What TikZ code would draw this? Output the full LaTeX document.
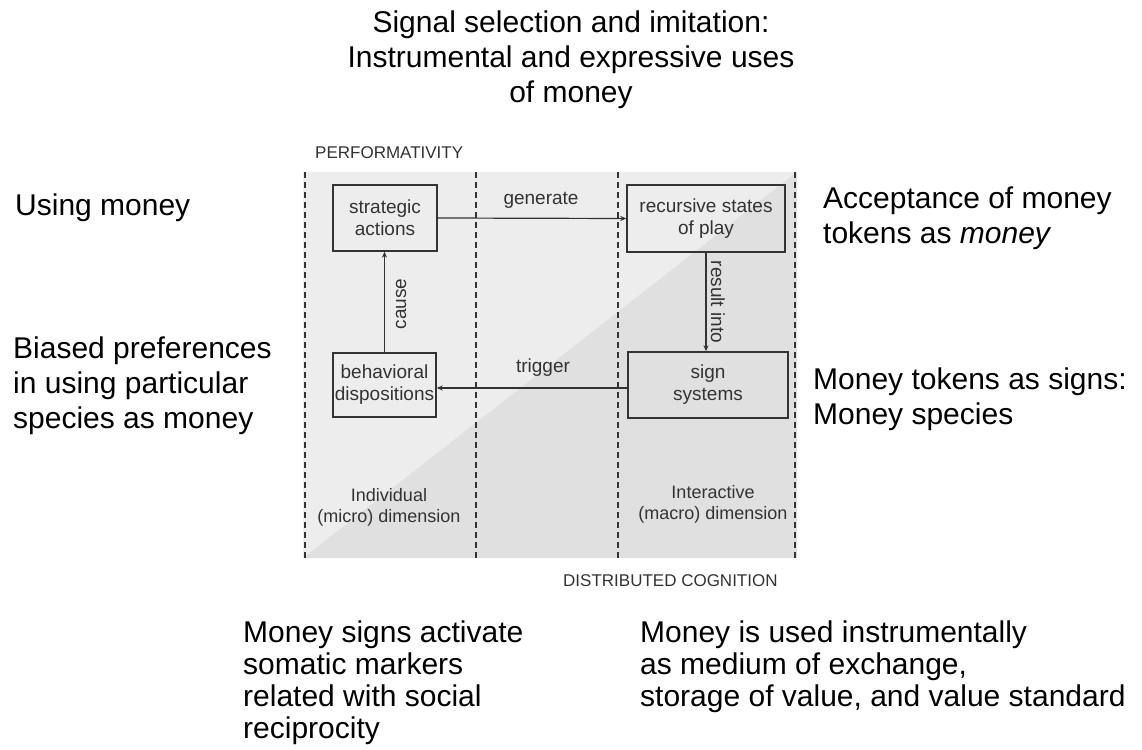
\documentclass[tikz,border=0pt]{standalone}
\usepackage{fontspec}
\setmainfont{Liberation Sans}
\usetikzlibrary{arrows.meta}
\definecolor{bglight}{HTML}{EDEDED}
\definecolor{bgdark}{HTML}{E0E0E0}
\definecolor{ink}{HTML}{333333}
\begin{document}
\begin{tikzpicture}[x=1pt,y=-1pt,
  bigtext/.style={inner sep=0pt, anchor=north west, align=left, text=black,
    font=\fontsize{30}{35}\selectfont},
  bottomtext/.style={bigtext, font=\fontsize{30}{32}\selectfont},
  smallcap/.style={inner sep=0pt, anchor=base west, text=ink, font=\fontsize{17}{20}\selectfont},
  boxnode/.style={draw=ink, line width=1.4pt, inner sep=0pt, align=center, text=ink,
    font=\fontsize{19}{22}\selectfont},
  lab/.style={inner sep=0pt, text=ink, font=\fontsize{19}{22}\selectfont},
  dimlab/.style={inner sep=0pt, text=ink, align=center, font=\fontsize{18}{21}\selectfont},
  sep/.style={ink, line width=1.5pt, dash pattern=on 6pt off 4pt},
  conn/.style={ink, line width=1.2pt, -{Stealth[length=6pt,width=5pt]}}
]
\useasboundingbox (0,0) rectangle (1142,749);
\fill[white] (0,0) rectangle (1142,749);

% background panel
\fill[bglight] (303,172) rectangle (797,558);
\fill[bgdark] (303,558) -- (797,172) -- (797,558) -- cycle;

% dashed separators
\coordinate (d1t) at (305,172); \coordinate (d1b) at (305,558);
\coordinate (d2t) at (476,172); \coordinate (d2b) at (476,558);
\coordinate (d3t) at (618,172); \coordinate (d3b) at (618,558);
\coordinate (d4t) at (795,172); \coordinate (d4b) at (795,558);
\draw[sep] (d1t) -- (d1b);
\draw[sep] (d2t) -- (d2b);
\draw[sep] (d3t) -- (d3b);
\draw[sep] (d4t) -- (d4b);

% small captions
\node[smallcap] (perf) at (315,158) {PERFORMATIVITY};
\node[smallcap] (dist) at (563,586) {DISTRIBUTED COGNITION};

% boxes
\node[boxnode, minimum width=104pt, minimum height=66pt] (strat) at (385,218) {strategic\\actions};
\node[boxnode, minimum width=158pt, minimum height=67pt] (rec) at (706,218.5) {recursive states\\of play};
\node[boxnode, minimum width=103pt, minimum height=64pt] (beh) at (384.5,385) {behavioral\\dispositions};
\node[boxnode, minimum width=160pt, minimum height=66pt] (sign) at (708,385) {sign\\systems};

% connectors
\draw[conn] (strat.east) -- (rec.west);
\draw[conn] ([yshift=-3pt]sign.west) -- ([yshift=-3pt]beh.east);
\draw[conn] (beh.north) -- (beh.north |- strat.south);
\draw[conn] (rec.south) -- (rec.south |- sign.north);

% connector labels
\node[lab] (lgen) at (541,200) {generate};
\node[lab] (ltrig) at (543,368) {trigger};
\node[lab, rotate=90] (lcause) at (401,304) {cause};
\node[lab, rotate=-90] (lres) at (718,302) {result into};

% dimension labels
\node[dimlab, anchor=north] (indiv) at (389,488) {Individual\\(micro) dimension};
\node[dimlab, anchor=north] (inter) at (713,485) {Interactive\\(macro) dimension};

% outer texts
\node[bigtext, anchor=north, align=center] (title) at (571,10.5)
  {Signal selection and imitation:\\Instrumental and expressive uses\\of money};
\node[bigtext] (using) at (15,193.5) {Using money};
\node[bigtext] (biased) at (13,336.5) {Biased preferences\\in using particular\\species as money};
\node[bigtext] (accept) at (823,187) {Acceptance of money\\tokens as \textit{money}};
\node[bigtext] (tokens) at (813,368) {Money tokens as signs:\\Money species};
\node[bottomtext] (signsact) at (243,621) {Money signs activate\\somatic markers\\related with social\\reciprocity};
\node[bottomtext] (instr) at (640,621) {Money is used instrumentally\\as medium of exchange,\\storage of value, and value standard};
\end{tikzpicture}
\end{document}
